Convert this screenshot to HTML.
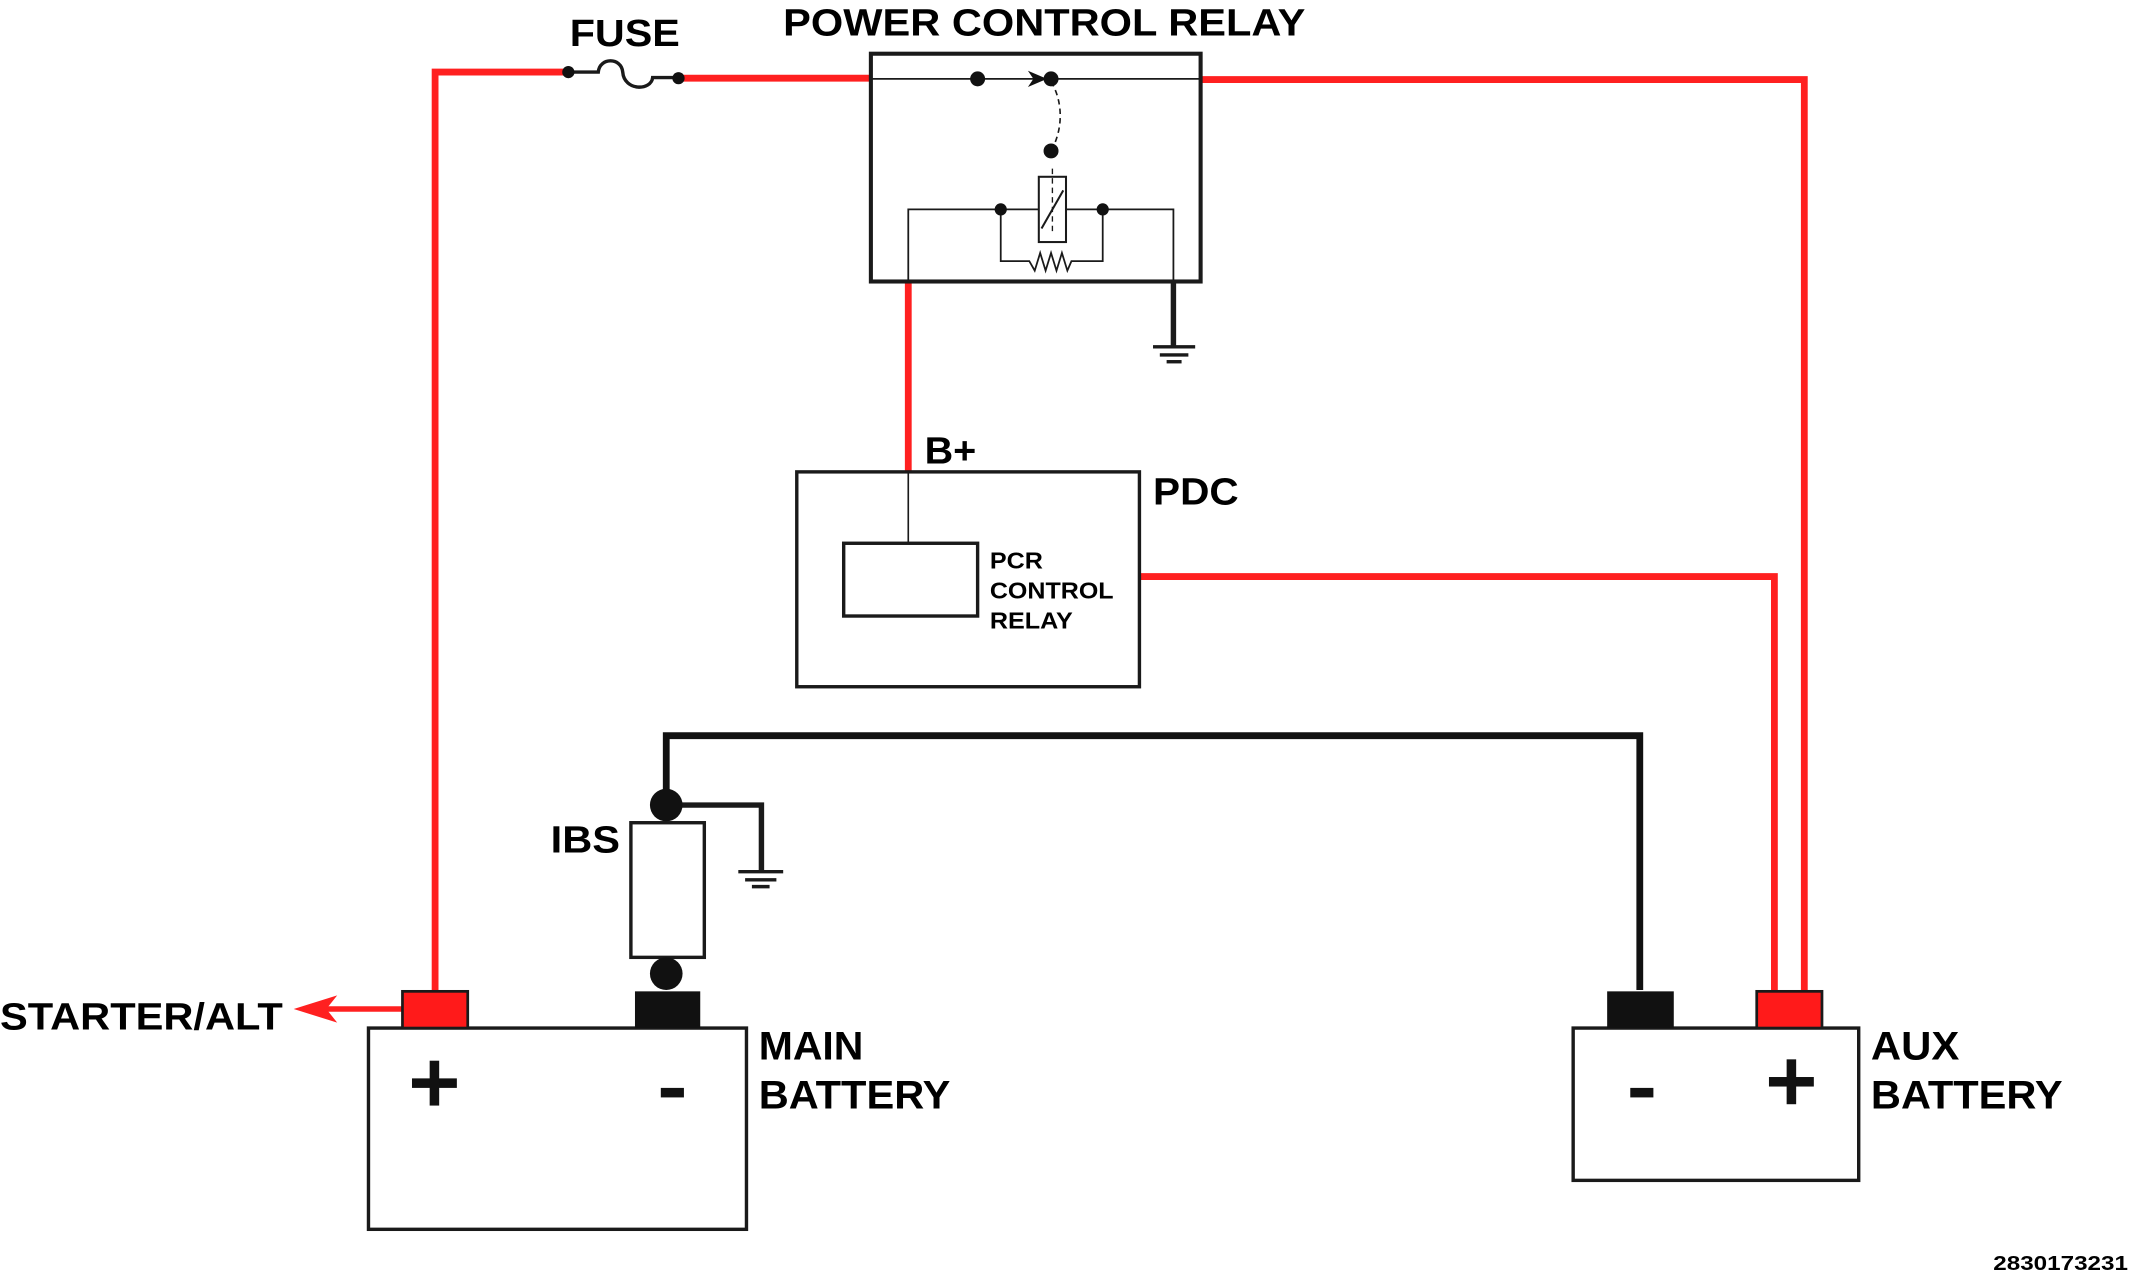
<!DOCTYPE html>
<html><head><meta charset="utf-8"><style>html,body{margin:0;padding:0;background:#fff}svg{display:block}text{font-family:"Liberation Sans",sans-serif;font-weight:bold;fill:#000}</style></head>
<body>
<svg width="2132" height="1281" viewBox="0 0 1568 942" preserveAspectRatio="none" xmlns="http://www.w3.org/2000/svg">
<g fill="none" stroke-linejoin="miter">
<polyline points="320,728 320,53 418,53" stroke="#ff2020" stroke-width="5"/>
<line x1="499" y1="57.5" x2="641" y2="57.5" stroke="#ff2020" stroke-width="5"/>
<polyline points="883,58.5 1327,58.5 1327,728" stroke="#ff2020" stroke-width="5"/>
<line x1="668" y1="207" x2="668" y2="346" stroke="#ff2020" stroke-width="5"/>
<polyline points="838,424 1305,424 1305,728" stroke="#ff2020" stroke-width="5"/>
<line x1="296" y1="742" x2="232" y2="742" stroke="#ff2020" stroke-width="4"/>
<path d="M418,53 H440 C441,42 457,42 458,53 C459,67 479,67 480,57 H499" stroke="#1a1a1a" stroke-width="2.5"/>
<rect x="640.5" y="39.5" width="242.5" height="167.5" stroke="#1a1a1a" stroke-width="3"/>
<line x1="641" y1="58" x2="883" y2="58" stroke="#1a1a1a" stroke-width="1.2"/>
<path d="M773,60 C782,75 782,95 773,111" stroke="#1a1a1a" stroke-width="1.2" stroke-dasharray="4,3"/>
<rect x="764" y="130" width="20" height="48" stroke="#1a1a1a" stroke-width="1.5"/>
<line x1="766" y1="168" x2="782" y2="140" stroke="#1a1a1a" stroke-width="1.5"/>
<line x1="774" y1="124" x2="774" y2="172" stroke="#1a1a1a" stroke-width="1" stroke-dasharray="4,3"/>
<polyline points="668,207 668,154 764,154" stroke="#1a1a1a" stroke-width="1.3"/>
<polyline points="784,154 863,154 863,207" stroke="#1a1a1a" stroke-width="1.3"/>
<polyline points="736,154 736,192 757,192 761,199 765,186 769,199 773,186 777,199 781,186 785,199 788,192 811,192 811,154" stroke="#1a1a1a" stroke-width="1.3"/>
<line x1="863" y1="207" x2="863" y2="255" stroke="#1a1a1a" stroke-width="4"/>
<line x1="848" y1="255" x2="879" y2="255" stroke="#1a1a1a" stroke-width="2.5"/>
<line x1="853" y1="261" x2="874" y2="261" stroke="#1a1a1a" stroke-width="2.5"/>
<line x1="858" y1="266" x2="869" y2="266" stroke="#1a1a1a" stroke-width="2.5"/>
<rect x="586" y="347" width="252" height="158" stroke="#1a1a1a" stroke-width="2.5"/>
<line x1="668" y1="347" x2="668" y2="399" stroke="#1a1a1a" stroke-width="1.2"/>
<rect x="620.5" y="399.5" width="98.5" height="53.5" stroke="#1a1a1a" stroke-width="2.5"/>
<polyline points="490,592 490,541 1206,541 1206,728" stroke="#111" stroke-width="5"/>
<polyline points="490,592 560,592 560,641" stroke="#1a1a1a" stroke-width="4"/>
<line x1="543" y1="641" x2="576" y2="641" stroke="#1a1a1a" stroke-width="2.5"/>
<line x1="548" y1="647" x2="571" y2="647" stroke="#1a1a1a" stroke-width="2.5"/>
<line x1="553" y1="652" x2="566" y2="652" stroke="#1a1a1a" stroke-width="2.5"/>
<rect x="464" y="605" width="54" height="99" stroke="#1a1a1a" stroke-width="2.5"/>
<rect x="271" y="756" width="278" height="148" stroke="#1a1a1a" stroke-width="2.5"/>
<rect x="1157" y="756" width="210" height="112" stroke="#1a1a1a" stroke-width="2.5"/>
</g>
<g fill="#111">
<circle cx="418" cy="53" r="4.5"/><circle cx="499" cy="57.5" r="4.5"/>
<circle cx="719" cy="58" r="5.5"/><circle cx="773" cy="58" r="5.5"/><circle cx="773" cy="111" r="5.5"/>
<path d="M770,58 L756,52 L760,58 L756,64 Z"/>
<circle cx="736" cy="154" r="4.5"/><circle cx="811" cy="154" r="4.5"/>
<circle cx="490" cy="592" r="12"/><circle cx="490" cy="716" r="12"/>
<rect x="467" y="729" width="48" height="27"/>
<rect x="1182" y="729" width="49" height="27"/>
<!-- plus/minus signs -->
<rect x="303" y="793" width="33" height="7"/><rect x="316" y="780" width="7" height="33"/>
<rect x="486" y="800" width="17" height="7"/>
<rect x="1199" y="800" width="17" height="7"/>
<rect x="1301" y="792" width="33" height="7"/><rect x="1314" y="779" width="7" height="33"/>
</g>
<rect x="296" y="729" width="48" height="27" fill="#ff1a1a" stroke="#1a1a1a" stroke-width="2"/>
<rect x="1292" y="729" width="48" height="27" fill="#ff1a1a" stroke="#1a1a1a" stroke-width="2"/>
<path d="M216,742 L248,732 L240,742 L248,752 Z" fill="#ff2020"/>
<g lengthAdjust="spacingAndGlyphs">
<text x="419" y="34" font-size="28" textLength="81" lengthAdjust="spacingAndGlyphs">FUSE</text>
<text x="576" y="26" font-size="28" textLength="384" lengthAdjust="spacingAndGlyphs">POWER CONTROL RELAY</text>
<text x="680" y="341" font-size="28" textLength="38" lengthAdjust="spacingAndGlyphs">B+</text>
<text x="848" y="371" font-size="28" textLength="63" lengthAdjust="spacingAndGlyphs">PDC</text>
<text x="728" y="418" font-size="17" textLength="39" lengthAdjust="spacingAndGlyphs">PCR</text>
<text x="728" y="440" font-size="17" textLength="91" lengthAdjust="spacingAndGlyphs">CONTROL</text>
<text x="728" y="462" font-size="17" textLength="61" lengthAdjust="spacingAndGlyphs">RELAY</text>
<text x="405" y="627" font-size="28" textLength="51" lengthAdjust="spacingAndGlyphs">IBS</text>
<text x="0" y="757" font-size="28" textLength="208" lengthAdjust="spacingAndGlyphs">STARTER/ALT</text>
<text x="558" y="779" font-size="29" textLength="77" lengthAdjust="spacingAndGlyphs">MAIN</text>
<text x="558" y="815" font-size="29" textLength="141" lengthAdjust="spacingAndGlyphs">BATTERY</text>
<text x="1376" y="779" font-size="29" textLength="65" lengthAdjust="spacingAndGlyphs">AUX</text>
<text x="1376" y="815" font-size="29" textLength="141" lengthAdjust="spacingAndGlyphs">BATTERY</text>
<text x="1466" y="934" font-size="15" textLength="99" lengthAdjust="spacingAndGlyphs">2830173231</text>
</g>
</svg>
</body></html>
